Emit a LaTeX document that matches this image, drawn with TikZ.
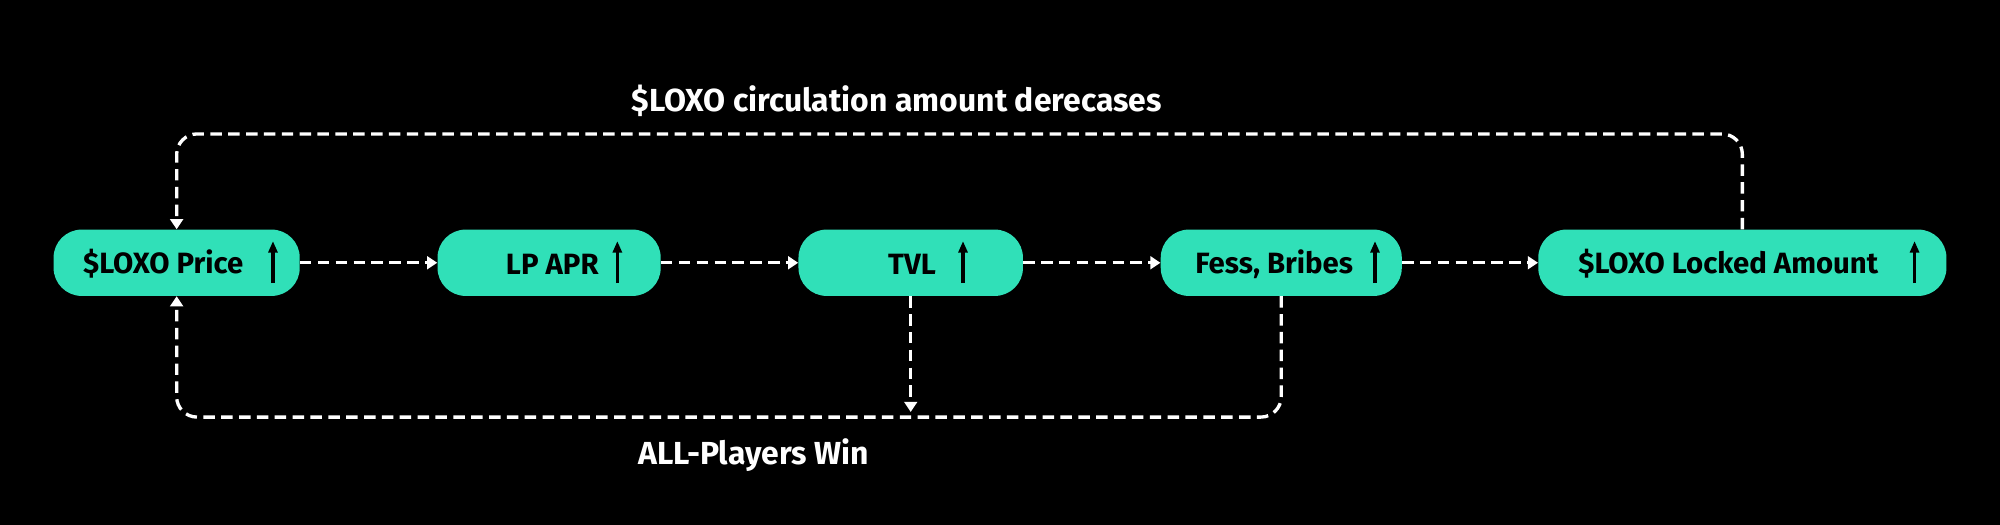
\documentclass[tikz,border=0pt]{standalone}
\usepackage{fontspec}
\setmainfont{Fira Sans}
\usetikzlibrary{arrows.meta}
\definecolor{teal}{HTML}{30E0B8}
\begin{document}
\begin{tikzpicture}[x=1pt,y=-1pt,
  pill/.style={fill=teal, rounded corners=22pt, minimum height=52pt, inner sep=0pt},
  lbl/.style={font=\fontsize{23}{26}\selectfont\bfseries, text=black, inner sep=0pt},
  up/.style={line width=2.6pt, -{Triangle[width=7pt,length=9pt]}, black},
  conn/.style={draw=white, line width=2.6pt, dash pattern=on 9pt off 5pt, -{Triangle[width=10pt,length=8pt]}},
  captext/.style={font=\fontsize{25}{28}\selectfont\bfseries, text=white, inner sep=0pt}]
\fill[black] (0,0) rectangle (1568,411.6);
\useasboundingbox (0,0) rectangle (1568,411.6);
\node[pill, minimum width=193pt] (n1) at (138.5,206) {};
\node[pill, minimum width=175pt] (n2) at (430.5,206) {};
\node[pill, minimum width=176pt] (n3) at (714,206) {};
\node[pill, minimum width=189pt] (n4) at (1004.5,206) {};
\node[pill, minimum width=320pt] (n5) at (1366,206) {};
\node[lbl] (t1) at (128,207) {\$LOXO Price};
\node[lbl] (t2) at (433,207) {LP APR};
\node[lbl] (t3) at (715,207) {TVL};
\node[lbl] (t4) at (999,207) {Fess, Bribes};
\node[lbl] (t5) at (1355,207) {\$LOXO Locked Amount};
\foreach \x in {214,484,755,1078,1501}{\draw[up] (\x,222) -- (\x,189);}
\draw[conn] (n1) -- (n2);
\draw[conn] (n2) -- (n3);
\draw[conn] (n3) -- (n4);
\draw[conn] (n4) -- (n5);
\coordinate (tl) at (138.5,105);
\coordinate (bl) at (138.5,327);
\coordinate (tv) at (714,323);
\draw[conn, rounded corners=16pt] (n5.north) |- (tl) -- (n1.north);
\draw[conn, rounded corners=16pt] (n4.south) |- (bl) -- (n1.south);
\draw[conn] (n3.south) -- (tv);
\node[captext] (c1) at (703,79) {\$LOXO circulation amount derecases};
\node[captext] (c2) at (591,357) {ALL-Players Win};
\end{tikzpicture}
\end{document}
